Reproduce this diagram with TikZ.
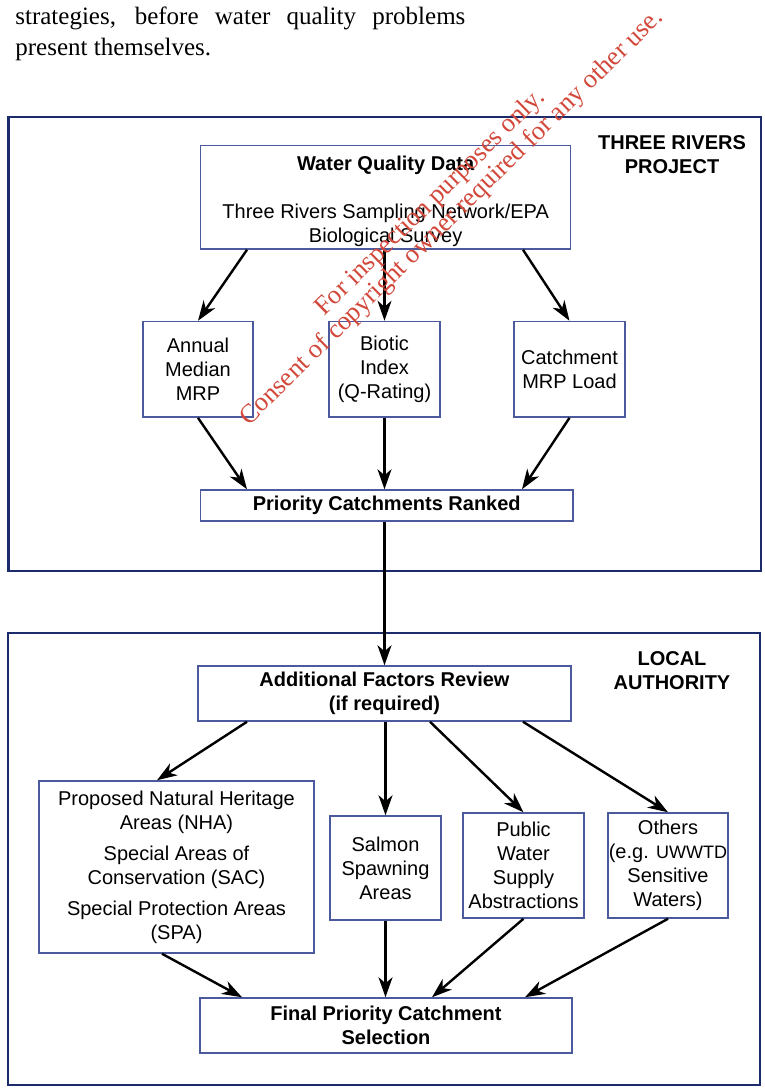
\documentclass[tikz,border=0pt]{standalone}
\usepackage{fontspec}
\setmainfont{Liberation Sans}
\newfontfamily\serifwm{Liberation Serif}
\usetikzlibrary{calc,arrows.meta}
\definecolor{framec}{HTML}{1C2B6B}
\definecolor{boxc}{HTML}{4B5A9C}
\definecolor{wmred}{HTML}{D2483A}
\begin{document}
\begin{tikzpicture}[x=0.5pt,y=-0.5pt,
  frame/.style={draw=framec,line width=1.3pt},
  box/.style={draw=boxc,line width=0.75pt,inner sep=0pt,align=center,font=\fontsize{10}{12}\selectfont},
  arr/.style={-{Stealth[length=10pt,width=7pt,inset=3pt]},line width=1.2pt},
  lbl/.style={font=\bfseries\fontsize{10}{12}\selectfont,align=center,inner sep=0pt,anchor=north},
  prose/.style={anchor=base west,inner sep=0pt,font=\serifwm\fontsize{12.5}{15.5}\selectfont},
  wm/.style={text=wmred,font=\serifwm\fontsize{13.2}{13.2}\selectfont,rotate=44.5,anchor=base,inner sep=0pt}]
\useasboundingbox (0,0) rectangle (765,1088);
\fill[white] (0,0) rectangle (765,1088);

% prose above the figure
\node[prose] (t1) at (15,24) {\makebox[225pt][s]{strategies, before water quality problems}};
\node[prose] (t2) at (15,55) {present themselves.};

% frames
\draw[frame] (8.5,117) rectangle (761,571);
\draw[frame] (8,633) rectangle (760,1085);
\node[lbl] (trp) at (672,135) {THREE RIVERS\\PROJECT};
\node[lbl] (la) at (672,651) {LOCAL\\AUTHORITY};

% upper boxes
\node[box,minimum width=185pt,minimum height=51.7pt] (wqd) at (385.7,197.3)
  {\rule{0pt}{11.3pt}\textbf{Water Quality Data}\\[12pt]Three Rivers Sampling Network/EPA\\Biological Survey};
\node[box,minimum width=55pt,minimum height=47.8pt] (ann) at (198,369.3) {Annual\\Median\\MRP};
\node[box,minimum width=55.5pt,minimum height=47.8pt] (bio) at (384.5,369.3) {Biotic\\Index\\(Q-Rating)};
\node[box,minimum width=55.5pt,minimum height=47.8pt] (cat) at (569.5,369.3) {Catchment\\MRP Load};
\node[box,minimum width=186.2pt,minimum height=15.5pt] (pcr) at (386.8,505.5) {\textbf{Priority Catchments Ranked}};

% lower boxes
\node[box,minimum width=186.5pt,minimum height=27.5pt] (add) at (384.5,693.5)
  {\textbf{Additional Factors Review}\\\textbf{(if required)}};
\node[box,minimum width=137.5pt,minimum height=86pt] (nha) at (176.5,867)
  {Proposed Natural Heritage\\Areas (NHA)\\[3.5pt]Special Areas of\\Conservation (SAC)\\[3.5pt]Special Protection Areas\\(SPA)};
\node[box,minimum width=55.5pt,minimum height=52pt] (sal) at (385.5,868) {Salmon\\Spawning\\Areas};
\node[box,minimum width=60.5pt,minimum height=52.5pt] (pub) at (523.5,865.5) {Public\\Water\\Supply\\Abstractions};
\node[box,minimum width=60pt,minimum height=52.5pt] (oth) at (668,865.5)
  {Others\\(e.g. {\fontsize{9}{12}\selectfont UWWTD}\\Sensitive\\Waters)};
\node[box,minimum width=186pt,minimum height=27.5pt] (fin) at (386,1025.5)
  {\textbf{Final Priority Catchment}\\\textbf{Selection}};

% connectors, upper part
\draw[arr] ($(wqd.south)+(-138.7,0)$) -- (ann.north);
\draw[arr] (bio.north |- wqd.south) -- (bio.north);
\draw[arr] ($(wqd.south)+(137.3,0)$) -- (cat.north);
\draw[arr] (ann.south) -- ($(pcr.north)+(-139.8,0)$);
\draw[arr] (bio.south) -- (bio.south |- pcr.north);
\draw[arr] (cat.south) -- ($(pcr.north)+(135.2,0)$);
\draw[arr] (add.north |- pcr.south) -- (add.north);

% connectors, lower part
\draw[arr] ($(add.south)+(-137.5,0)$) -- ($(nha.north)+(-19.5,0)$);
\draw[arr] (sal.north |- add.south) -- (sal.north);
\draw[arr] ($(add.south)+(45.5,0)$) -- (pub.north);
\draw[arr] ($(add.south)+(138.5,0)$) -- (oth.north);
\draw[arr] ($(nha.south)+(-14.5,0)$) -- ($(fin.north)+(-144,0)$);
\draw[arr] (sal.south) -- (sal.south |- fin.north);
\draw[arr] (pub.south) -- ($(fin.north)+(46,0)$);
\draw[arr] (oth.south) -- ($(fin.north)+(139,0)$);

% watermark
\node[wm] (wm1) at (435,207.5) {For inspection purposes only.};
\node[wm] (wm2) at (456.5,222.5) {Consent of copyright owner required for any other use.};
\end{tikzpicture}
\end{document}
